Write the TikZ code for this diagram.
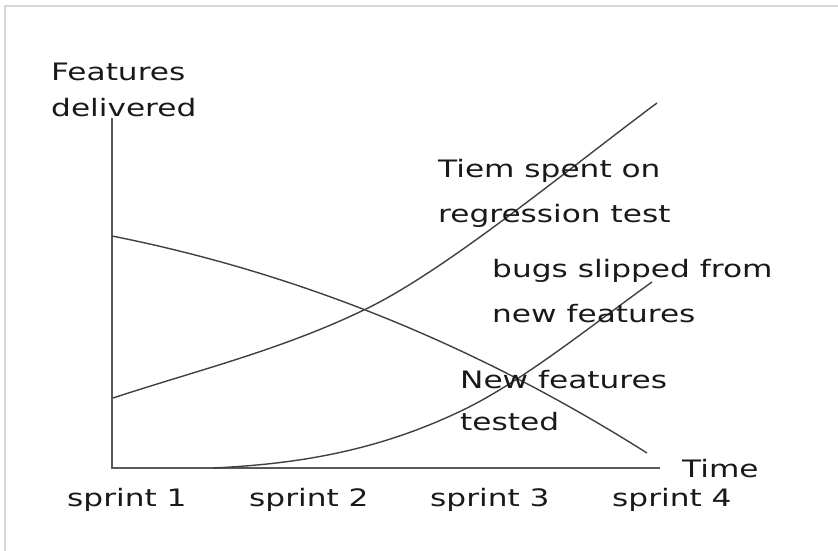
\documentclass[tikz,border=0pt]{standalone}
\usepackage{fontspec}
\setmainfont[FakeStretch=1.3]{DejaVu Sans}
\begin{document}
\begin{tikzpicture}[x=1pt,y=-1pt,
  lbl/.style={anchor=base west, inner sep=0pt, font=\fontsize{24}{28}\selectfont, text=black!90},
  curve/.style={draw=black!75, line width=1.4pt},
  axisline/.style={draw=black!65, line width=2pt},
  frameline/.style={draw=black!15, line width=2pt}]
\useasboundingbox (0,0) rectangle (838,551);
\draw[frameline] (5,551) -- (5,6) -- (838,6);
% axes
\coordinate (ytop) at (112,118);
\coordinate (O) at (112,468);
\coordinate (xend) at (660,468);
\draw[axisline] (ytop) -- (O) -- (xend);
% curves
\coordinate (c1s) at (112,236);
\coordinate (c1e) at (647,453);
\draw[curve] (c1s) .. controls (298,273) and (476,345) .. (c1e);
\coordinate (c2s) at (113,398);
\coordinate (c2m) at (370,307);
\coordinate (c2e) at (657,103);
\draw[curve] (c2s) .. controls (198,370) and (285,349) .. (c2m)
                   .. controls (450,267) and (567,170) .. (c2e);
\coordinate (c3s) at (213,468);
\coordinate (c3m) at (463,410);
\coordinate (c3e) at (652,282);
\draw[curve] (c3s) .. controls (298,464) and (378,451) .. (c3m)
                   .. controls (523,381) and (592,325) .. (c3e);
% labels
\node[lbl] (f1) at (51,81) {Features};
\node[lbl] (f2) at (51,116) {delivered};
\node[lbl] (r1) at (438,177) {Tiem spent on};
\node[lbl] (r2) at (438,222) {regression test};
\node[lbl] (b1) at (492,277) {bugs slipped from};
\node[lbl] (b2) at (492,322) {new features};
\node[lbl] (n1) at (460,388) {New features};
\node[lbl] (n2) at (460,430) {tested};
\node[lbl] (time) at (682,477) {Time};
\node[lbl] (s1) at (67,506) {sprint 1};
\node[lbl] (s2) at (249,506) {sprint 2};
\node[lbl] (s3) at (430,506) {sprint 3};
\node[lbl] (s4) at (612,506) {sprint 4};
\end{tikzpicture}
\end{document}
